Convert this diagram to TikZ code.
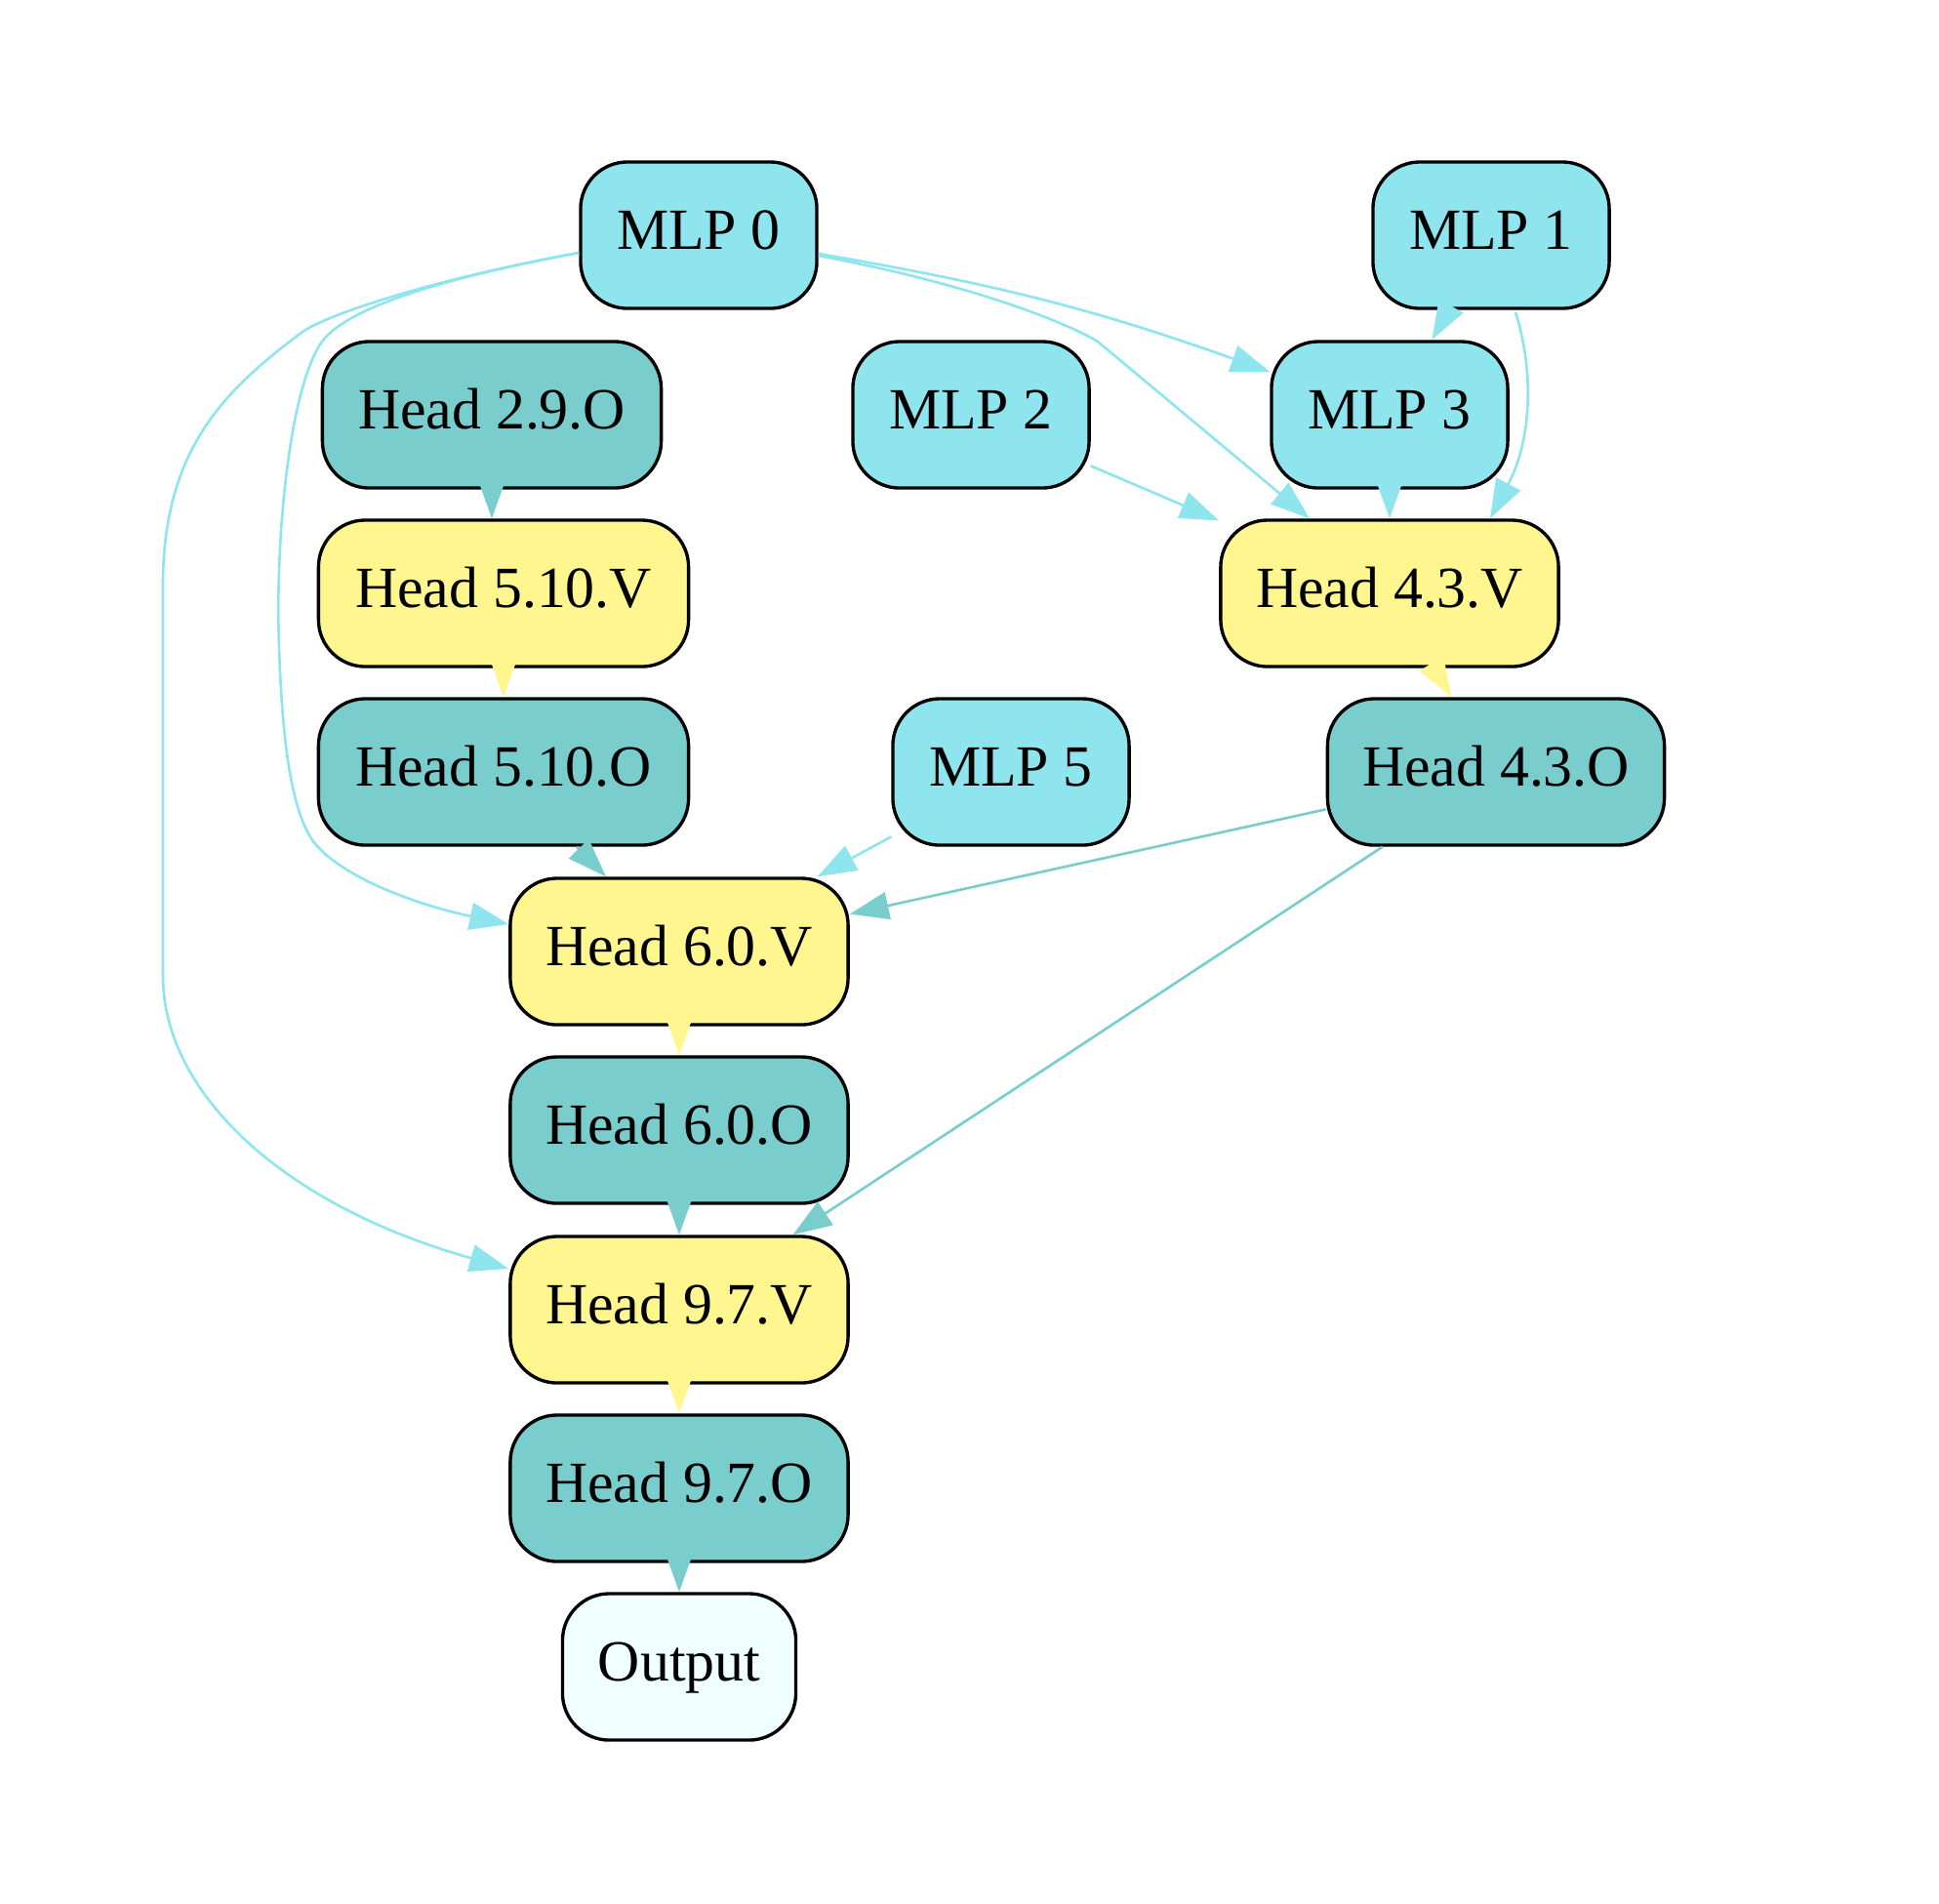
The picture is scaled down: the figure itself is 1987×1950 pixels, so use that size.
\documentclass[tikz,border=0pt]{standalone}
\usepackage{fontspec}
\setmainfont{Liberation Serif}
\usetikzlibrary{arrows.meta,calc}
\definecolor{mlpc}{HTML}{8EE5EE}
\definecolor{headoc}{HTML}{79CDCD}
\definecolor{headvc}{HTML}{FFF68F}
\definecolor{outc}{HTML}{F0FFFF}
\tikzset{
  box/.style={draw=black, line width=0.95pt, rounded corners=0.48cm,
    minimum height=1.5cm, inner sep=0pt, text height=11pt, text depth=2.5pt,
    font=\fontsize{17}{20}\selectfont},
  mlpbox/.style={box, fill=mlpc, minimum width=2.42cm},
  obox/.style={box, fill=headoc},
  vbox/.style={box, fill=headvc},
  outbox/.style={box, fill=outc},
  edge/.style={line width=0.75pt, -{Triangle[length=0.4cm,width=0.28cm]}},
  emlp/.style={edge, draw=mlpc},
  eo/.style={edge, draw=headoc},
  ev/.style={edge, draw=headvc}
}
\begin{document}
\begin{tikzpicture}[x=0.01cm, y=-0.01cm]
\useasboundingbox (0,0) rectangle (1987,1950);
% nodes
\node[mlpbox] (mlp0) at (716,241) {MLP 0};
\node[mlpbox] (mlp1) at (1528,241) {MLP 1};
\node[obox, minimum width=3.47cm] (h29o) at (504,425) {Head 2.9.O};
\node[mlpbox] (mlp2) at (995,425) {MLP 2};
\node[mlpbox] (mlp3) at (1424,425) {MLP 3};
\node[vbox, minimum width=3.79cm] (h510v) at (516,608) {Head 5.10.V};
\node[vbox, minimum width=3.46cm] (h43v) at (1424,608) {Head 4.3.V};
\node[obox, minimum width=3.79cm] (h510o) at (516,791) {Head 5.10.O};
\node[mlpbox] (mlp5) at (1036,791) {MLP 5};
\node[obox, minimum width=3.45cm] (h43o) at (1533,791) {Head 4.3.O};
\node[vbox, minimum width=3.46cm] (h60v) at (696,975) {Head 6.0.V};
\node[obox, minimum width=3.46cm] (h60o) at (696,1158) {Head 6.0.O};
\node[vbox, minimum width=3.46cm] (h97v) at (696,1342) {Head 9.7.V};
\node[obox, minimum width=3.46cm] (h97o) at (696,1525) {Head 9.7.O};
\node[outbox, minimum width=2.39cm] (out) at (696,1708) {Output};
% edges from MLP 0
\draw[emlp] ($(mlp0.east)+(0,19)$) to[bend left=5] ($(mlp3.west)+(0,-44)$);
\draw[emlp] ($(mlp0.east)+(0,21)$) .. controls (1000,292) and (1095,332) .. (1125,350) -- ($(h43v.north)+(-82,0)$);
\draw[emlp] ($(mlp0.west)+(0,18)$) .. controls (480,280) and (360,310) .. (330,350)
  .. controls (295,400) and (282,560) .. (286,663)
  .. controls (290,790) and (305,845) .. (325,867)
  .. controls (360,905) and (440,930) .. ($(h60v.west)+(0,-28)$);
\draw[emlp] ($(mlp0.west)+(0,18)$) .. controls (450,285) and (340,320) .. (310,340)
  .. controls (230,400) and (167,460) .. (167,600) -- (167,1000)
  .. controls (167,1120) and (290,1235) .. ($(h97v.west)+(0,-42)$);
% other MLP edges
\draw[emlp] (mlp1) -- (mlp3);
\draw[emlp] ($(mlp1.south)+(25,2)$) .. controls (1572,380) and (1570,450) .. ($(h43v.north)+(103,0)$);
\draw[emlp] (mlp2) -- (h43v);
\draw[emlp] (mlp3) -- (h43v);
\draw[emlp] (mlp5) -- (h60v);
% head chains
\draw[eo] (h29o) -- (h510v.north -| h29o.south);
\draw[ev] (h510v) -- (h510o);
\draw[eo] (h510o) -- (h60v);
\draw[ev] (h43v) -- (h43o);
\draw[eo] (h43o) -- (h60v);
\draw[eo] (h43o) -- (h97v);
\draw[ev] (h60v) -- (h60o);
\draw[eo] (h60o) -- (h97v);
\draw[ev] (h97v) -- (h97o);
\draw[eo] (h97o) -- (out);
\end{tikzpicture}
\end{document}
